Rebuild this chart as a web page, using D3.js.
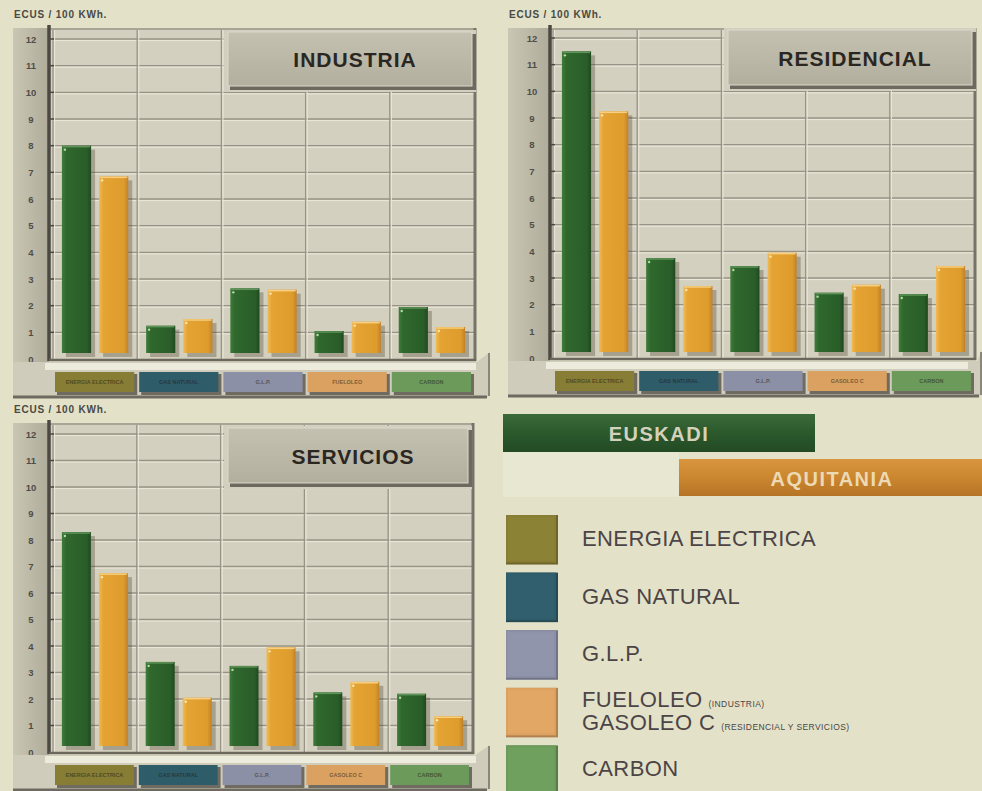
<!DOCTYPE html>
<html lang="es">
<head>
<meta charset="UTF-8">
<title>Precios de la energía: Euskadi / Aquitania</title>
<style>
  html, body { margin: 0; padding: 0; background: #e3e2c8; }
  svg { display: block; font-family: Arial, "Liberation Sans", sans-serif; }
</style>
</head>
<body>
<svg width="982" height="791"></svg>
<script src="https://d3js.org/d3.v7.min.js"></script>
<script>
// ECUS / 100 KWh
const series = ["EUSKADI", "AQUITANIA"];
const catIndustria = ["ENERGIA ELECTRICA", "GAS NATURAL", "G.L.P.", "FUELOLEO", "CARBON"];
const catResidencial = ["ENERGIA ELECTRICA", "GAS NATURAL", "G.L.P.", "GASOLEO C", "CARBON"];
const catServicios = ["ENERGIA ELECTRICA", "GAS NATURAL", "G.L.P.", "GASOLEO C", "CARBON"];

const industriaEuskadi = [8.0, 1.25, 2.65, 1.05, 1.95];
const industriaAquitania = [6.85, 1.5, 2.6, 1.4, 1.2];
const residencialEuskadi = [11.5, 3.75, 3.45, 2.45, 2.4];
const residencialAquitania = [9.25, 2.7, 3.95, 2.75, 3.45];
const serviciosEuskadi = [8.3, 3.4, 3.25, 2.25, 2.2];
const serviciosAquitania = [6.75, 2.05, 3.95, 2.65, 1.35];

const yTickValues = [0, 1, 2, 3, 4, 5, 6, 7, 8, 9, 10, 11, 12];
const yUnit = "ECUS / 100 KWh.";

const legendMain = ["ENERGIA ELECTRICA", "GAS NATURAL", "G.L.P.", "FUELOLEO", "CARBON"];
const legendSecond = [null, null, null, "GASOLEO C", null];
const legendNotes = [null, null, null, "(INDUSTRIA)", null];
const legendNotes2 = [null, null, null, "(RESIDENCIAL Y SERVICIOS)", null];

const catColors = ["#877d34", "#2f5c69", "#8c90a6", "#dba161", "#6b9a5a"];
const seriesColors = ["#2d652c", "#e3a232"];

const svg = d3.select("svg");
const defs = svg.append("defs");

function hGrad(id, stops) {
  const g = defs.append("linearGradient").attr("id", id)
    .attr("x1", 0).attr("y1", 0).attr("x2", 1).attr("y2", 0);
  stops.forEach(s => g.append("stop").attr("offset", s[0]).attr("stop-color", s[1]));
}
function vGrad(id, stops) {
  const g = defs.append("linearGradient").attr("id", id)
    .attr("x1", 0).attr("y1", 0).attr("x2", 0).attr("y2", 1);
  stops.forEach(s => g.append("stop").attr("offset", s[0]).attr("stop-color", s[1]));
}
hGrad("bar0", [[0, "#3f7d3a"], [0.15, "#2f682d"], [0.85, "#2a5d29"], [1, "#1f4a1f"]]);
hGrad("bar1", [[0, "#f0bb55"], [0.15, "#e4a333"], [0.85, "#de9c2c"], [1, "#c0812a"]]);
hGrad("strip", [[0, "#c9c6b4"], [0.5, "#bcb9a7"], [1, "#aeab9a"]]);
vGrad("titlebox", [[0, "#c4c1b0"], [1, "#b2af9e"]]);
vGrad("eusk", [[0, "#3b6a3a"], [0.5, "#2b592c"], [1, "#234a24"]]);
vGrad("aqui", [[0, "#d9963e"], [0.5, "#cb862f"], [1, "#b57426"]]);

const panels = [
  { title: "INDUSTRIA", cats: catIndustria, vals: [industriaEuskadi, industriaAquitania],
    x0: 13, x1: 490, top: 28, axisX: 49, plotL: 53, plotR: 474, y0: 359, y12: 39,
    box: [230, 32, 476, 88] },
  { title: "RESIDENCIAL", cats: catResidencial, vals: [residencialEuskadi, residencialAquitania],
    x0: 508, x1: 982, top: 28, axisX: 550, plotL: 553, plotR: 974, y0: 358, y12: 38,
    box: [730, 30, 976, 87] },
  { title: "SERVICIOS", cats: catServicios, vals: [serviciosEuskadi, serviciosAquitania],
    x0: 13, x1: 490, top: 423, axisX: 49, plotL: 53, plotR: 472, y0: 752, y12: 434,
    box: [230, 428, 472, 485] }
];

panels.forEach(drawPanel);

function drawPanel(p) {
  const g = svg.append("g");
  const y = d3.scaleLinear().domain([0, 12]).range([p.y0, p.y12]);
  const x = d3.scaleBand().domain(p.cats).range([p.plotL, p.plotR]);
  const xs = d3.scaleBand().domain(series).range([0, x.bandwidth()])
    .paddingInner(0.216).paddingOuter(0.24);

  // unit label
  g.append("text").attr("x", p.x0 + 1).attr("y", p.top - 10)
    .attr("font-size", 10).attr("font-weight", "bold").attr("letter-spacing", 0.8)
    .attr("fill", "#4a4944").text(yUnit);

  // left strip with tick labels
  g.append("rect").attr("x", p.x0).attr("y", p.top)
    .attr("width", p.axisX - p.x0).attr("height", p.y0 + 4 - p.top)
    .attr("fill", "url(#strip)");

  // plot background
  g.append("rect").attr("x", p.axisX).attr("y", p.top)
    .attr("width", p.plotR - p.axisX).attr("height", p.y0 - p.top)
    .attr("fill", "#d4d0bf");
  g.append("line").attr("x1", p.axisX).attr("x2", p.plotR + 2)
    .attr("y1", p.top + 1).attr("y2", p.top + 1)
    .attr("stroke", "#a9a596").attr("stroke-width", 2);

  // horizontal grid, embossed
  const grid = yTickValues.filter(t => t > 0);
  g.selectAll(".gd").data(grid).join("line")
    .attr("x1", p.axisX + 3).attr("x2", p.plotR)
    .attr("y1", d => y(d)).attr("y2", d => y(d))
    .attr("stroke", "#979386").attr("stroke-width", 1.3);
  g.selectAll(".gl").data(grid).join("line")
    .attr("x1", p.axisX + 3).attr("x2", p.plotR)
    .attr("y1", d => y(d) + 1.6).attr("y2", d => y(d) + 1.6)
    .attr("stroke", "#ebe8da").attr("stroke-width", 1);

  // vertical grid at category boundaries
  const bounds = p.cats.map(c => x(c));
  g.selectAll(".vd").data(bounds).join("line")
    .attr("x1", d => d).attr("x2", d => d)
    .attr("y1", p.top + 2).attr("y2", p.y0)
    .attr("stroke", "#979386").attr("stroke-width", 1.3);
  g.selectAll(".vl").data(bounds).join("line")
    .attr("x1", d => d + 1.6).attr("x2", d => d + 1.6)
    .attr("y1", p.top + 2).attr("y2", p.y0)
    .attr("stroke", "#ebe8da").attr("stroke-width", 1);

  // right frame of the plot
  g.append("line").attr("x1", p.plotR + 1).attr("x2", p.plotR + 1)
    .attr("y1", p.top).attr("y2", p.y0 + 2)
    .attr("stroke", "#77736a").attr("stroke-width", 3);

  // title box
  const b = p.box;
  g.append("rect").attr("x", b[0] - 6).attr("y", b[1] - 2)
    .attr("width", b[2] - b[0] + 6).attr("height", b[3] - b[1] + 6)
    .attr("fill", "#d3cfbf");
  g.append("rect").attr("x", b[0]).attr("y", b[1] + 2)
    .attr("width", b[2] - b[0]).attr("height", b[3] - b[1])
    .attr("fill", "#6d695f");
  g.append("rect").attr("x", b[0] - 2).attr("y", b[1])
    .attr("width", b[2] - b[0] - 2).attr("height", b[3] - b[1] - 2)
    .attr("fill", "url(#titlebox)").attr("stroke", "#dcd9cb").attr("stroke-width", 1);
  g.append("text").attr("x", (b[0] + b[2]) / 2 + 2).attr("y", (b[1] + b[3]) / 2 + 7)
    .attr("text-anchor", "middle").attr("font-size", 21).attr("font-weight", "bold")
    .attr("letter-spacing", 1).attr("fill", "#2a2622").text(p.title);

  // bars
  series.forEach((s, si) => {
    const bars = g.append("g").selectAll("g").data(p.cats.map((c, i) => ({ c, v: p.vals[si][i] })))
      .join("g").attr("transform", d => `translate(${x(d.c) + xs(s)},0)`);
    bars.append("rect").attr("x", 4).attr("y", d => y(d.v) + 4)
      .attr("width", xs.bandwidth()).attr("height", d => y(0) - y(d.v) - 6)
      .attr("fill", "rgba(80,72,55,0.35)");
    bars.append("rect").attr("x", 0).attr("y", d => y(d.v))
      .attr("width", xs.bandwidth()).attr("height", d => y(0) - y(d.v) - 6)
      .attr("fill", `url(#bar${si})`);
    bars.append("line").attr("x1", 1).attr("x2", xs.bandwidth() - 1)
      .attr("y1", d => y(d.v) + 1).attr("y2", d => y(d.v) + 1)
      .attr("stroke", si ? "#f6cf80" : "#5f9458").attr("stroke-width", 1.5);
    bars.append("circle").attr("cx", 3).attr("cy", d => y(d.v) + 4).attr("r", 1.2)
      .attr("fill", si ? "#fbe6b5" : "#b8d8a8");
  });

  // axes
  g.append("line").attr("x1", p.axisX).attr("x2", p.axisX)
    .attr("y1", p.top - 3).attr("y2", p.y0 + 2)
    .attr("stroke", "#4c4943").attr("stroke-width", 3.5);
  g.append("line").attr("x1", p.axisX).attr("x2", p.plotR + 2)
    .attr("y1", p.y0 + 1).attr("y2", p.y0 + 1)
    .attr("stroke", "#6b675d").attr("stroke-width", 2.5);
  g.selectAll(".tk").data(grid).join("line")
    .attr("x1", p.axisX).attr("x2", p.axisX + 5)
    .attr("y1", d => y(d)).attr("y2", d => y(d))
    .attr("stroke", "#4c4943").attr("stroke-width", 1.5);
  g.selectAll(".tl").data(yTickValues).join("text")
    .attr("x", p.axisX - 18).attr("y", d => y(d) + 3.5)
    .attr("text-anchor", "middle").attr("font-size", 9.5).attr("font-weight", "bold")
    .attr("fill", "#4f4d47").text(d => d);

  // base tray with category buttons
  const trayTop = p.y0 + 3;
  g.append("path")
    .attr("d", `M${p.x0},${trayTop} H${p.plotR + 3} L${p.x1},${trayTop - 10} V${p.y0 + 36} L${p.x1 - 4},${p.y0 + 39} H${p.x0} Z`)
    .attr("fill", "#cfccbb");
  g.append("rect").attr("x", p.axisX - 4).attr("y", trayTop + 1)
    .attr("width", p.x1 - 10 - p.axisX).attr("height", 7).attr("fill", "#ecebdc");
  g.append("line").attr("x1", p.x0).attr("x2", p.x1 - 3)
    .attr("y1", p.y0 + 38).attr("y2", p.y0 + 38)
    .attr("stroke", "#6e6a60").attr("stroke-width", 3);
  g.append("line").attr("x1", p.x1 - 1).attr("x2", p.x1 - 1)
    .attr("y1", trayTop - 9).attr("y2", p.y0 + 37)
    .attr("stroke", "#8a867a").attr("stroke-width", 2);

  const btn = g.append("g").selectAll("g").data(p.cats).join("g")
    .attr("transform", d => `translate(${x(d) + 2},${p.y0 + 13})`);
  btn.append("rect").attr("x", 2).attr("y", 2)
    .attr("width", x.bandwidth() - 4).attr("height", 21).attr("fill", "#6f6b60");
  btn.append("rect").attr("width", x.bandwidth() - 5).attr("height", 20)
    .attr("fill", (d, i) => catColors[i]);
  btn.append("text").attr("x", (x.bandwidth() - 5) / 2).attr("y", 12)
    .attr("text-anchor", "middle").attr("font-size", 5.5).attr("font-weight", "bold")
    .attr("fill", "rgba(30,25,15,0.55)").text(d => d);
}

// legend: series
const lg = svg.append("g");
lg.append("rect").attr("x", 503).attr("y", 452).attr("width", 176).attr("height", 45)
  .attr("fill", "#e8e7d1");
lg.append("rect").attr("x", 503).attr("y", 414).attr("width", 312).attr("height", 38)
  .attr("fill", "url(#eusk)");
lg.append("text").attr("x", 659).attr("y", 441).attr("text-anchor", "middle")
  .attr("font-size", 20).attr("font-weight", "bold").attr("letter-spacing", 1.5)
  .attr("fill", "#d4d2bc").text(series[0]);
lg.append("rect").attr("x", 679).attr("y", 459).attr("width", 303).attr("height", 37)
  .attr("fill", "url(#aqui)");
lg.append("text").attr("x", 832).attr("y", 486).attr("text-anchor", "middle")
  .attr("font-size", 20).attr("font-weight", "bold").attr("letter-spacing", 1.5)
  .attr("fill", "#ecd9b5").text(series[1]);

// legend: categories
const ly = d3.scaleBand().domain(legendMain).range([515, 795]).paddingInner(0.14).paddingOuter(0);
const li = lg.append("g").selectAll("g").data(legendMain).join("g")
  .attr("transform", d => `translate(506,${ly(d)})`);
li.append("rect").attr("width", 52).attr("height", ly.bandwidth())
  .attr("fill", (d, i) => d3.color(catColors[i]).darker(0.6));
li.append("rect").attr("width", 50).attr("height", ly.bandwidth() - 2)
  .attr("fill", (d, i) => catColors[i]);
li.append("rect").attr("x", 2).attr("y", 2).attr("width", 46).attr("height", ly.bandwidth() - 6)
  .attr("fill", (d, i) => d3.color(catColors[i]).brighter(0.1));

li.append("text").attr("x", 76).attr("y", (d, i) => legendSecond[i] ? 19 : 31)
  .attr("font-size", 22).attr("letter-spacing", 0.4).attr("fill", "#4c4446")
  .text(d => d)
  .append("tspan").attr("font-size", 8.5).attr("dx", 6)
  .text((d, i) => legendNotes[i] ? legendNotes[i] : "");
li.filter((d, i) => legendSecond[i]).append("text").attr("x", 76).attr("y", 42)
  .attr("font-size", 22).attr("letter-spacing", 0.4).attr("fill", "#4c4446")
  .text((d) => legendSecond[legendMain.indexOf(d)])
  .append("tspan").attr("font-size", 8.5).attr("dx", 6)
  .text((d) => legendNotes2[legendMain.indexOf(d)]);
</script>
</body>
</html>
